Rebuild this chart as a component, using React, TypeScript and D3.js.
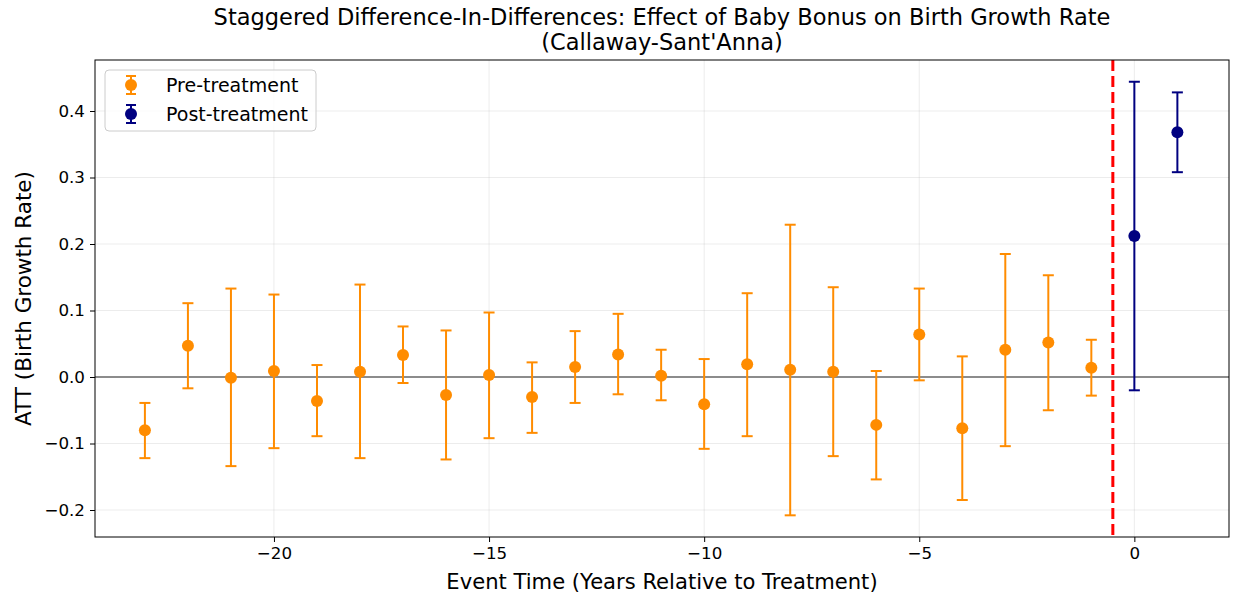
import React, { useEffect, useRef } from 'react';
import * as d3 from 'd3';

const eventTimes = [-23, -22, -21, -20, -19, -18, -17, -16, -15, -14, -13, -12, -11, -10, -9, -8, -7, -6, -5, -4, -3, -2, -1, 0, 1];
const att = [-0.080, 0.047, -0.001, 0.009, -0.036, 0.008, 0.033, -0.027, 0.003, -0.030, 0.015, 0.034, 0.002, -0.041, 0.019, 0.011, 0.008, -0.072, 0.064, -0.077, 0.041, 0.052, 0.014, 0.212, 0.368];
const ciUpper = [-0.039, 0.111, 0.133, 0.124, 0.018, 0.139, 0.076, 0.070, 0.097, 0.022, 0.069, 0.095, 0.041, 0.027, 0.126, 0.229, 0.135, 0.009, 0.133, 0.031, 0.185, 0.153, 0.056, 0.444, 0.428];
const ciLower = [-0.122, -0.017, -0.134, -0.107, -0.089, -0.122, -0.009, -0.124, -0.092, -0.084, -0.039, -0.026, -0.035, -0.108, -0.089, -0.208, -0.119, -0.154, -0.005, -0.185, -0.104, -0.050, -0.028, -0.020, 0.308];
const xTicks = [-20, -15, -10, -5, 0];
const yTicks = [-0.2, -0.1, 0.0, 0.1, 0.2, 0.3, 0.4];

const PRE = '#ff8c00';
const POST = '#000080';

export default function App() {
  const ref = useRef<SVGSVGElement>(null);

  useEffect(() => {
    const svg = d3.select(ref.current);
    svg.selectAll('*').remove();
    const width = 1233;
    const height = 598;
    const margin = { top: 60, right: 4, bottom: 61, left: 95 };
    const font = 'DejaVu Sans, sans-serif';

    const x = d3.scaleLinear().domain([-24.16, 2.2]).range([margin.left, width - margin.right]);
    const y = d3.scaleLinear().domain([-0.2406, 0.4767]).range([height - margin.bottom, margin.top]);

    const data = eventTimes.map((t, i) => ({ t, v: att[i], hi: ciUpper[i], lo: ciLower[i] }));

    // grid
    const grid = svg.append('g');
    xTicks.forEach(t => {
      grid.append('line').attr('x1', x(t)).attr('x2', x(t)).attr('y1', margin.top).attr('y2', height - margin.bottom)
        .attr('stroke', '#b0b0b0').attr('stroke-opacity', 0.3).attr('stroke-width', 0.8);
    });
    yTicks.forEach(t => {
      grid.append('line').attr('y1', y(t)).attr('y2', y(t)).attr('x1', margin.left).attr('x2', width - margin.right)
        .attr('stroke', '#b0b0b0').attr('stroke-opacity', 0.3).attr('stroke-width', 0.8);
    });

    // zero line
    svg.append('line').attr('x1', margin.left).attr('x2', width - margin.right).attr('y1', y(0)).attr('y2', y(0))
      .attr('stroke', '#222').attr('stroke-width', 1);

    // treatment line
    svg.append('line').attr('x1', x(-0.5)).attr('x2', x(-0.5)).attr('y1', margin.top).attr('y2', height - margin.bottom)
      .attr('stroke', '#ff0000').attr('stroke-width', 3).attr('stroke-dasharray', '11,5');

    const g = svg.append('g');
    data.forEach(d => {
      const c = d.t < 0 ? PRE : POST;
      const cx = x(d.t);
      g.append('line').attr('x1', cx).attr('x2', cx).attr('y1', y(d.hi)).attr('y2', y(d.lo)).attr('stroke', c).attr('stroke-width', 2);
      [d.hi, d.lo].forEach(v => {
        g.append('line').attr('x1', cx - 5.5).attr('x2', cx + 5.5).attr('y1', y(v)).attr('y2', y(v)).attr('stroke', c).attr('stroke-width', 2);
      });
      g.append('circle').attr('cx', cx).attr('cy', y(d.v)).attr('r', 6).attr('fill', c);
    });

    // axes
    const xAxis = svg.append('g').attr('transform', `translate(0,${height - margin.bottom})`)
      .call(d3.axisBottom(x).tickValues(xTicks).tickSize(5).tickPadding(5).tickFormat(d => d3.format('d')(+d).replace('-', '\u2212')));
    const yAxis = svg.append('g').attr('transform', `translate(${margin.left},0)`)
      .call(d3.axisLeft(y).tickValues(yTicks).tickSize(5).tickPadding(5).tickFormat(d => d3.format('.1f')(+d).replace('-', '\u2212')));
    [xAxis, yAxis].forEach(a => {
      a.select('.domain').remove();
      a.selectAll('text').attr('font-family', font).attr('font-size', 16.7).attr('fill', '#000');
      a.selectAll('line').attr('stroke', '#000').attr('stroke-width', 1);
    });

    // frame
    svg.append('rect').attr('x', margin.left).attr('y', margin.top)
      .attr('width', width - margin.right - margin.left).attr('height', height - margin.bottom - margin.top)
      .attr('fill', 'none').attr('stroke', '#000').attr('stroke-width', 1);

    // titles
    const cxMid = (margin.left + width - margin.right) / 2;
    svg.append('text').attr('x', cxMid).attr('y', 25).attr('text-anchor', 'middle')
      .attr('font-family', font).attr('font-size', 22.5).text('Staggered Difference-In-Differences: Effect of Baby Bonus on Birth Growth Rate');
    svg.append('text').attr('x', cxMid).attr('y', 50).attr('text-anchor', 'middle')
      .attr('font-family', font).attr('font-size', 22.5).text("(Callaway-Sant'Anna)");
    svg.append('text').attr('x', cxMid).attr('y', 589).attr('text-anchor', 'middle')
      .attr('font-family', font).attr('font-size', 21.1).text('Event Time (Years Relative to Treatment)');
    svg.append('text').attr('transform', `translate(31,${(margin.top + height - margin.bottom) / 2}) rotate(-90)`)
      .attr('text-anchor', 'middle').attr('font-family', font).attr('font-size', 21.5).text('ATT (Birth Growth Rate)');

    // legend
    const lg = svg.append('g').attr('transform', `translate(105,70)`);
    lg.append('rect').attr('width', 211).attr('height', 61).attr('rx', 4).attr('fill', '#fff').attr('fill-opacity', 0.8)
      .attr('stroke', '#cccccc').attr('stroke-width', 1);
    [{ label: 'Pre-treatment', c: PRE }, { label: 'Post-treatment', c: POST }].forEach((item, i) => {
      const cy = 15 + i * 29;
      const cx = 26;
      lg.append('line').attr('x1', cx).attr('x2', cx).attr('y1', cy - 9).attr('y2', cy + 9).attr('stroke', item.c).attr('stroke-width', 2);
      [cy - 9, cy + 9].forEach(yy => lg.append('line').attr('x1', cx - 5).attr('x2', cx + 5).attr('y1', yy).attr('y2', yy).attr('stroke', item.c).attr('stroke-width', 2));
      lg.append('circle').attr('cx', cx).attr('cy', cy).attr('r', 6).attr('fill', item.c);
      lg.append('text').attr('x', 61).attr('y', cy + 6.5).attr('font-family', font).attr('font-size', 19).text(item.label);
    });
  });

  return <svg ref={ref} width={1233} height={598} style={{ position: 'absolute', left: 0, top: 0 }} />;
}
